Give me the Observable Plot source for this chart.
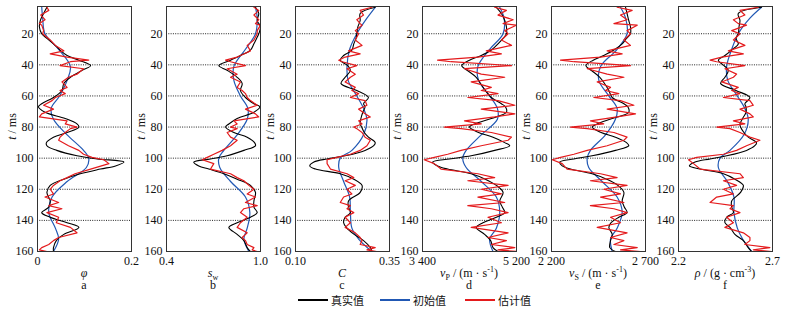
<!DOCTYPE html>
<html><head><meta charset="utf-8">
<script src="https://cdn.jsdelivr.net/npm/d3@7"></script>
<script src="https://cdn.jsdelivr.net/npm/@observablehq/plot@0.6"></script>
<style>
body{margin:0;background:#fff;}
#wrap{position:relative;width:809px;height:309px;overflow:hidden;font-family:"Liberation Serif",serif;}
.panel{position:absolute;top:0;}
.lg{position:absolute;top:292px;height:16px;display:flex;align-items:center;font-family:"Noto Sans CJK SC",sans-serif;font-size:11px;color:#111;}
.lg span.ln{display:inline-block;width:30px;height:1.3px;margin-right:3px;}
</style></head><body><div id="wrap"></div>
<script>
// ---- data ----
const yTicks = [20,40,60,80,100,120,140,160];
const gridT = [20,40,60,80,100,120,140];

const tTrue = [3,7,11.5,15.5,20,23,26.5,30.5,34,37,40.5,43.5,48,52,56.5,61,65,67,70.5,74.5,78,80,83.5,86.5,90,92,95,98.5,100.5,102.5,105,107,110,113.5,117.5,122,127.5,131.5,135,138,141.5,144.5,149,153,157.5,160];
const tInit = [3,10,20,30,41,50,60,68,75,85,95,100,106,115,125,135,145,152,160];
const tEst = [3,5,8,11,13.5,14.5,18,20,24,27.5,31,33,35,37,38,40.5,42.5,46,48,51,54.5,56.5,58.5,61,63,66,68.5,71.5,73.5,76,78,80,81,83.5,86.5,88.5,92,95,97.5,99.5,101,103.5,107,110,112.5,114.5,117.5,120,123,125,128.5,130.5,132.5,135,138,141.5,144.5,148,151,153,155.5,157.5,159,160];

const phiTrue = [0.020,0.013,0.006,0.004,0.009,0.020,0.034,0.048,0.063,0.088,0.113,0.095,0.070,0.056,0.052,0.034,0.009,0.002,0.016,0.059,0.084,0.088,0.063,0.034,0.019,0.020,0.041,0.084,0.127,0.184,0.166,0.134,0.091,0.056,0.027,0.020,0.027,0.024,0.009,0.027,0.063,0.088,0.056,0.040,0.034,0.034];
const phiInit = [0.009,0.011,0.016,0.045,0.070,0.063,0.047,0.029,0.034,0.063,0.098,0.109,0.104,0.063,0.031,0.024,0.038,0.045,0.034];
const phiEst = [0.020,0.024,0.007,0.016,0.004,0.009,0.013,0.011,0.027,0.038,0.056,0.027,0.063,0.109,0.070,0.048,0.098,0.084,0.066,0.052,0.063,0.048,0.059,0.038,0.031,0.013,0.034,0.009,0.004,0.063,0.059,0.084,0.070,0.059,0.048,0.045,0.066,0.088,0.098,0.116,0.141,0.152,0.113,0.080,0.063,0.048,0.034,0.027,0.034,0.016,0.045,0.024,0.052,0.020,0.045,0.040,0.070,0.084,0.045,0.034,0.024,0.009,0.004,0.020];

const swTrue = [0.968,0.989,0.979,1.000,0.989,0.975,0.958,0.936,0.872,0.809,0.734,0.787,0.851,0.883,0.872,0.904,0.958,0.996,0.958,0.851,0.798,0.777,0.830,0.915,0.962,0.968,0.894,0.787,0.681,0.574,0.606,0.670,0.766,0.851,0.936,0.968,0.958,0.958,0.979,0.936,0.851,0.798,0.851,0.894,0.915,0.936];
const swInit = [0.968,0.979,0.968,0.904,0.830,0.830,0.872,0.919,0.915,0.851,0.766,0.734,0.740,0.809,0.904,0.932,0.915,0.894,0.926];
const swEst = [0.958,0.989,0.958,0.989,0.968,1.000,0.979,0.979,0.958,0.915,0.936,0.894,0.851,0.777,0.809,0.904,0.787,0.851,0.809,0.872,0.851,0.883,0.904,0.915,0.936,0.979,0.904,0.968,0.989,0.830,0.851,0.809,0.851,0.787,0.809,0.851,0.809,0.755,0.702,0.660,0.628,0.702,0.681,0.809,0.851,0.894,0.926,0.958,0.915,0.968,0.904,0.979,0.894,0.872,0.915,0.872,0.851,0.915,0.883,0.904,0.915,0.958,0.947,0.979];

const cTrue = [0.312,0.272,0.272,0.266,0.263,0.261,0.255,0.250,0.228,0.219,0.239,0.246,0.232,0.221,0.263,0.294,0.281,0.285,0.279,0.274,0.272,0.276,0.283,0.294,0.312,0.308,0.285,0.232,0.184,0.149,0.138,0.153,0.219,0.255,0.277,0.272,0.241,0.241,0.246,0.232,0.228,0.235,0.256,0.281,0.299,0.303];
const cInit = [0.312,0.290,0.263,0.244,0.237,0.240,0.263,0.281,0.290,0.281,0.250,0.219,0.215,0.228,0.244,0.246,0.250,0.268,0.303];
const cEst = [0.303,0.272,0.281,0.263,0.272,0.277,0.259,0.268,0.259,0.277,0.241,0.272,0.232,0.215,0.224,0.263,0.237,0.259,0.246,0.232,0.259,0.250,0.268,0.246,0.285,0.290,0.268,0.285,0.299,0.268,0.277,0.255,0.263,0.277,0.285,0.299,0.290,0.272,0.246,0.210,0.184,0.184,0.193,0.237,0.255,0.232,0.259,0.237,0.250,0.228,0.219,0.246,0.237,0.255,0.232,0.246,0.232,0.259,0.272,0.277,0.272,0.312,0.290,0.316];

const vpTrue = [4814,4911,4975,5007,5007,4943,4846,4718,4525,4300,4152,4255,4429,4512,4602,4718,4911,4988,5007,4718,4396,4300,4474,4750,4975,5071,4782,4332,3914,3593,3689,3882,4332,4602,4814,4943,4879,4930,4975,4814,4557,4429,4589,4705,4750,4846];
const vpInit = [4879,4962,4943,4686,4461,4474,4686,4834,4834,4525,4236,4171,4236,4525,4814,4879,4814,4686,4750];
const vpEst = [4782,5007,4846,5136,4943,5200,4975,5039,4911,5104,4621,4911,4461,3689,3946,5104,4204,4525,4975,4332,4718,4525,4846,4268,4846,5168,4525,5168,4782,4204,4525,3818,4139,4718,5104,5039,4525,4139,3882,3625,3432,3625,3754,4461,4782,4268,5039,4525,4911,4461,4975,4268,4718,5039,4654,4911,4332,5039,4654,5007,4718,5168,4846,5200];

const vsTrue = [2594,2602,2611,2620,2620,2599,2576,2532,2478,2422,2383,2411,2457,2482,2505,2523,2585,2606,2611,2523,2443,2416,2464,2540,2599,2611,2540,2416,2319,2244,2257,2301,2416,2493,2553,2585,2576,2588,2602,2558,2517,2505,2523,2514,2510,2540];
const vsInit = [2567,2594,2602,2549,2461,2452,2505,2549,2540,2487,2407,2390,2398,2469,2549,2576,2549,2514,2523];
const vsEst = [2549,2629,2567,2602,2532,2656,2602,2620,2585,2620,2496,2576,2461,2248,2319,2620,2390,2496,2585,2443,2514,2487,2558,2425,2567,2638,2496,2647,2549,2407,2478,2301,2390,2532,2602,2585,2496,2390,2319,2248,2204,2257,2283,2461,2549,2407,2602,2478,2567,2461,2585,2407,2532,2602,2514,2567,2443,2602,2514,2585,2532,2656,2567,2673];

const rhoTrue = [2.642,2.518,2.527,2.522,2.518,2.506,2.518,2.483,2.447,2.412,2.442,2.465,2.447,2.424,2.506,2.580,2.553,2.559,2.559,2.541,2.527,2.530,2.548,2.571,2.615,2.606,2.562,2.456,2.368,2.288,2.258,2.315,2.439,2.500,2.545,2.530,2.483,2.483,2.492,2.456,2.447,2.474,2.500,2.545,2.571,2.589];
const rhoInit = [2.642,2.580,2.518,2.483,2.456,2.462,2.513,2.553,2.571,2.548,2.474,2.421,2.412,2.460,2.495,2.495,2.513,2.541,2.589];
const rhoEst = [2.624,2.527,2.553,2.492,2.518,2.562,2.483,2.527,2.492,2.553,2.465,2.545,2.430,2.368,2.403,2.553,2.447,2.509,2.492,2.430,2.518,2.483,2.527,2.439,2.580,2.598,2.527,2.580,2.598,2.492,2.553,2.403,2.474,2.527,2.580,2.633,2.562,2.509,2.439,2.297,2.253,2.280,2.315,2.527,2.545,2.439,2.509,2.439,2.492,2.403,2.368,2.492,2.474,2.527,2.456,2.492,2.447,2.545,2.580,2.580,2.553,2.686,2.598,2.695];

const letters = ["a","b","c","d","e","f"];
const xDomains = [[0,0.2],[0.4,1.0],[0.10,0.35],[3400,5200],[2200,2700],[2.2,2.7]];
const xTickLabels = [["0","0.2"],["0.4","1.0"],["0.10","0.35"],["3 400","5 200"],["2 200","2 700"],["2.2","2.7"]];
// label parts: [text, style] style: i italic, b subscript, p superscript, n normal
const xLabels = [
  [["φ","i"]],
  [["s","i"],["w","b"]],
  [["C","i"]],
  [["v","i"],["P","b"],[" / (m · s","n"],["-1","p"],[")","n"]],
  [["v","i"],["S","b"],[" / (m · s","n"],["-1","p"],[")","n"]],
  [["ρ","i"],[" / (g · cm","n"],["-3","p"],[")","n"]]
];
const legendLabels = ["真实值","初始值","估计值"];

// ---- drawing ----
const RED = "#e41a1c", BLUE = "#2158b4", BLACK = "#000";
const frameLefts = [37,166,295,422,551,678];
const FW = 94, ML = 37, MR = 12, MT = 6, H = 296, FB = 251;
const rows = (t, v) => t.map((d, i) => ({t: d, v: v[i]}));
const series = [
  [phiTrue, phiInit, phiEst],[swTrue, swInit, swEst],[cTrue, cInit, cEst],
  [vpTrue, vpInit, vpEst],[vsTrue, vsInit, vsEst],[rhoTrue, rhoInit, rhoEst]
];
const wrap = document.getElementById("wrap");

series.forEach((s, k) => {
  const ticks = xDomains[k];
  const labs = xTickLabels[k];
  const plot = Plot.plot({
    width: ML + FW + MR, height: H,
    marginLeft: ML, marginRight: MR, marginTop: MT, marginBottom: H - FB,
    style: {background: "transparent", overflow: "visible", fontFamily: "'Liberation Serif', serif", fontSize: "12px", color: "#111"},
    x: {domain: xDomains[k], ticks: ticks, tickFormat: d => labs[ticks.indexOf(d)], tickSize: 0, tickPadding: 5, label: null},
    y: {domain: [2.5, 160], reverse: true, ticks: yTicks, tickSize: 0, tickPadding: 4, label: null},
    marks: [
      Plot.ruleY(gridT, {stroke: "#222", strokeDasharray: "1,1.3", strokeWidth: 1}),
      Plot.line(rows(tInit, s[1]), {x: "v", y: "t", stroke: BLUE, strokeWidth: 1.2, curve: "catmull-rom", clip: true}),
      Plot.line(rows(tTrue, s[0]), {x: "v", y: "t", stroke: BLACK, strokeWidth: 1.1, curve: "catmull-rom", clip: true}),
      Plot.line(rows(tEst, s[2]), {x: "v", y: "t", stroke: RED, strokeWidth: 1.2, clip: true}),
      Plot.frame({stroke: "#333", strokeWidth: 1})
    ]
  });
  const div = document.createElement("div");
  div.className = "panel";
  div.style.left = (frameLefts[k] - ML) + "px";
  div.appendChild(plot);
  wrap.appendChild(div);

  const svg = d3.select(plot);
  const xr = plot.scale("x").range;
  const cx = (xr[0] + xr[1]) / 2;
  // x label
  const tx = svg.append("text").attr("x", cx).attr("y", 277).attr("text-anchor", "middle")
    .style("font-size", "12px").style("font-family", "'Liberation Serif', serif").attr("fill", "#111");
  let shift = 0;
  xLabels[k].forEach(([str, st]) => {
    const ts = tx.append("tspan").text(str);
    let target = 0;
    if (st === "i") ts.style("font-style", "italic");
    if (st === "b") { target = 3; ts.style("font-size", "8px"); }
    if (st === "p") { target = -5; ts.style("font-size", "8px"); }
    ts.attr("dy", target - shift);
    shift = target;
  });
  // panel letter
  svg.append("text").attr("x", cx).attr("y", 289).attr("text-anchor", "middle")
    .style("font-size", "12px").style("font-family", "'Liberation Serif', serif").attr("fill", "#111").text(letters[k]);
  // y label
  const yr = plot.scale("y").range;
  const cy = (yr[0] + yr[1]) / 2 - 2;
  const ty = svg.append("text").attr("transform", `translate(${ML - 21},${cy}) rotate(-90)`).attr("text-anchor", "middle")
    .style("font-size", "12px").style("font-family", "'Liberation Serif', serif").attr("fill", "#111");
  ty.append("tspan").text("t").style("font-style", "italic");
  ty.append("tspan").text(" / ms");
});

// legend
const legendColors = [BLACK, BLUE, RED];
const legendLefts = [298, 380, 465];
legendLabels.forEach((lab, i) => {
  const d = document.createElement("div");
  d.className = "lg";
  d.style.left = legendLefts[i] + "px";
  d.innerHTML = `<span class="ln" style="background:${legendColors[i]}"></span><span>${lab}</span>`;
  wrap.appendChild(d);
});
</script></body></html>
